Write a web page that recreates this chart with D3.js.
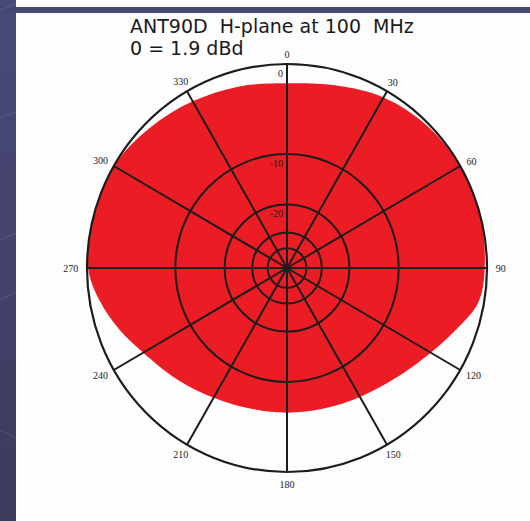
<!DOCTYPE html>
<html>
<head>
<meta charset="utf-8">
<script src="https://cdn.jsdelivr.net/npm/d3@7"></script>
<style>
  html, body { margin: 0; padding: 0; background: #ffffff; }
  svg { display: block; }
</style>
</head>
<body>
<svg id="chart" width="530" height="521"></svg>
<script>
// Horizontal-plane pattern, relative level in dB (0 dB = 1.9 dBd)
const azimuths = [0, 15, 30, 45, 60, 75, 90, 100, 110, 120, 135, 150, 165, 180,
                  195, 210, 225, 240, 250, 260, 270, 285, 300, 315, 330, 345];
const levels   = [-1.7, -1.3, -0.6, -0.2, 0, 0, -0.2, -0.5, -1.9, -3.2, -4.6, -5.4, -5.8, -5.9,
                  -5.8, -5.3, -4.4, -3.2, -2.0, -0.9, -0.1, 0, 0, -0.5, -1.0, -1.4];

// Grid
const ringLevels = [0, -10, -20, -30, -40];
const ringLabels = ["0", "-10", "-20"];
const spokeAngles = [0, 30, 60, 90, 120, 150, 180, 210, 240, 270, 300, 330];
const spokeLabels = ["0", "30", "60", "90", "120", "150", "180", "210", "240", "270", "300", "330"];

const titleLines = ["ANT90D  H-plane at 100  MHz", "0 = 1.9 dBd"];

const svg = d3.select("#chart");
const W = 530, H = 521;

// Slide frame
const bandGrad = svg.append("defs").append("linearGradient")
  .attr("id", "band").attr("x1", 0).attr("y1", 0).attr("x2", 0).attr("y2", 1);
bandGrad.append("stop").attr("offset", "0%").attr("stop-color", "#4a4a7a");
bandGrad.append("stop").attr("offset", "100%").attr("stop-color", "#3b3b5c");

svg.append("rect").attr("x", 0).attr("y", 0).attr("width", W).attr("height", H).attr("fill", "#fdfdfd");
svg.append("rect").attr("x", 0).attr("y", 0).attr("width", 16).attr("height", H).attr("fill", "url(#band)");
svg.append("rect").attr("x", 0).attr("y", 7).attr("width", W).attr("height", 6).attr("fill", "#474870");
// faint streaks on the side band
[[0, 10, 16, 4], [0, 118, 16, 112], [0, 240, 16, 233], [0, 300, 16, 292], [0, 430, 16, 438]]
  .forEach(s => svg.append("line")
    .attr("x1", s[0]).attr("y1", s[1]).attr("x2", s[2]).attr("y2", s[3])
    .attr("stroke", "#6a6a98").attr("stroke-width", 1).attr("opacity", 0.6));

// Polar geometry
const cx = 287, cy = 268, Rx = 200, Ry = 204;
// ARRL log-periodic radial scale: radius shrinks by 0.89 per 2 dB
const logR = d3.scaleLinear().domain([-2, 0]).range([Math.log(0.89), 0]);
const rFrac = db => Math.exp(logR(db));
const ang = d3.scaleLinear().domain([0, 360]).range([0, 2 * Math.PI]);
const px = (a, f) => cx + Rx * f * Math.sin(ang(a));
const py = (a, f) => cy - Ry * f * Math.cos(ang(a));

const pattern = azimuths.map((a, i) => ({ a, db: levels[i] }));

// Filled pattern
const line = d3.line()
  .x(d => px(d.a, rFrac(d.db)))
  .y(d => py(d.a, rFrac(d.db)))
  .curve(d3.curveCatmullRomClosed.alpha(0.5));

svg.append("path")
  .attr("d", line(pattern))
  .attr("fill", "#ec1c24")
  .attr("stroke", "none");

// Rings
const gridColor = "#1c1c1c";
svg.append("g").selectAll("ellipse").data(ringLevels).join("ellipse")
  .attr("cx", cx).attr("cy", cy)
  .attr("rx", d => Rx * rFrac(d)).attr("ry", d => Ry * rFrac(d))
  .attr("fill", "none").attr("stroke", gridColor)
  .attr("stroke-width", d => d === 0 ? 2.2 : 2);

// Spokes
svg.append("g").selectAll("line").data(spokeAngles).join("line")
  .attr("x1", cx).attr("y1", cy)
  .attr("x2", d => px(d, 1)).attr("y2", d => py(d, 1))
  .attr("stroke", gridColor).attr("stroke-width", 2);

svg.append("circle").attr("cx", cx).attr("cy", cy).attr("r", 4).attr("fill", gridColor);

// Angle labels
const labelFont = "'Liberation Serif', 'DejaVu Serif', serif";
svg.append("g").selectAll("text").data(spokeAngles).join("text")
  .attr("x", (d, i) => {
    const s = Math.sin(ang(d));
    const off = 9 + spokeLabels[i].length * 2.4 * Math.abs(s);
    return cx + (Rx + off) * s;
  })
  .attr("y", (d, i) => {
    const c = Math.cos(ang(d));
    const off = 9 + spokeLabels[i].length * 1.0 * Math.abs(c);
    return cy - (Ry + off) * c;
  })
  .attr("text-anchor", "middle")
  .attr("dominant-baseline", "central")
  .attr("font-family", labelFont)
  .attr("font-size", 10)
  .attr("fill", "#222")
  .text((d, i) => spokeLabels[i]);

// Ring level labels along the 0 degree spoke
svg.append("g").selectAll("text").data(ringLabels).join("text")
  .attr("x", cx - 4)
  .attr("y", (d, i) => cy - Ry * rFrac(ringLevels[i]) + 9)
  .attr("text-anchor", "end")
  .attr("dominant-baseline", "central")
  .attr("font-family", labelFont)
  .attr("font-size", 10)
  .attr("fill", "#222")
  .text(d => d);

// Title
svg.append("g").selectAll("text").data(titleLines).join("text")
  .attr("x", 130)
  .attr("y", (d, i) => 33 + i * 22)
  .attr("font-family", "'DejaVu Sans', Verdana, sans-serif")
  .attr("font-size", 19)
  .attr("fill", "#1a1a1a")
  .attr("xml:space", "preserve")
  .style("white-space", "pre")
  .text(d => d);
</script>
</body>
</html>
